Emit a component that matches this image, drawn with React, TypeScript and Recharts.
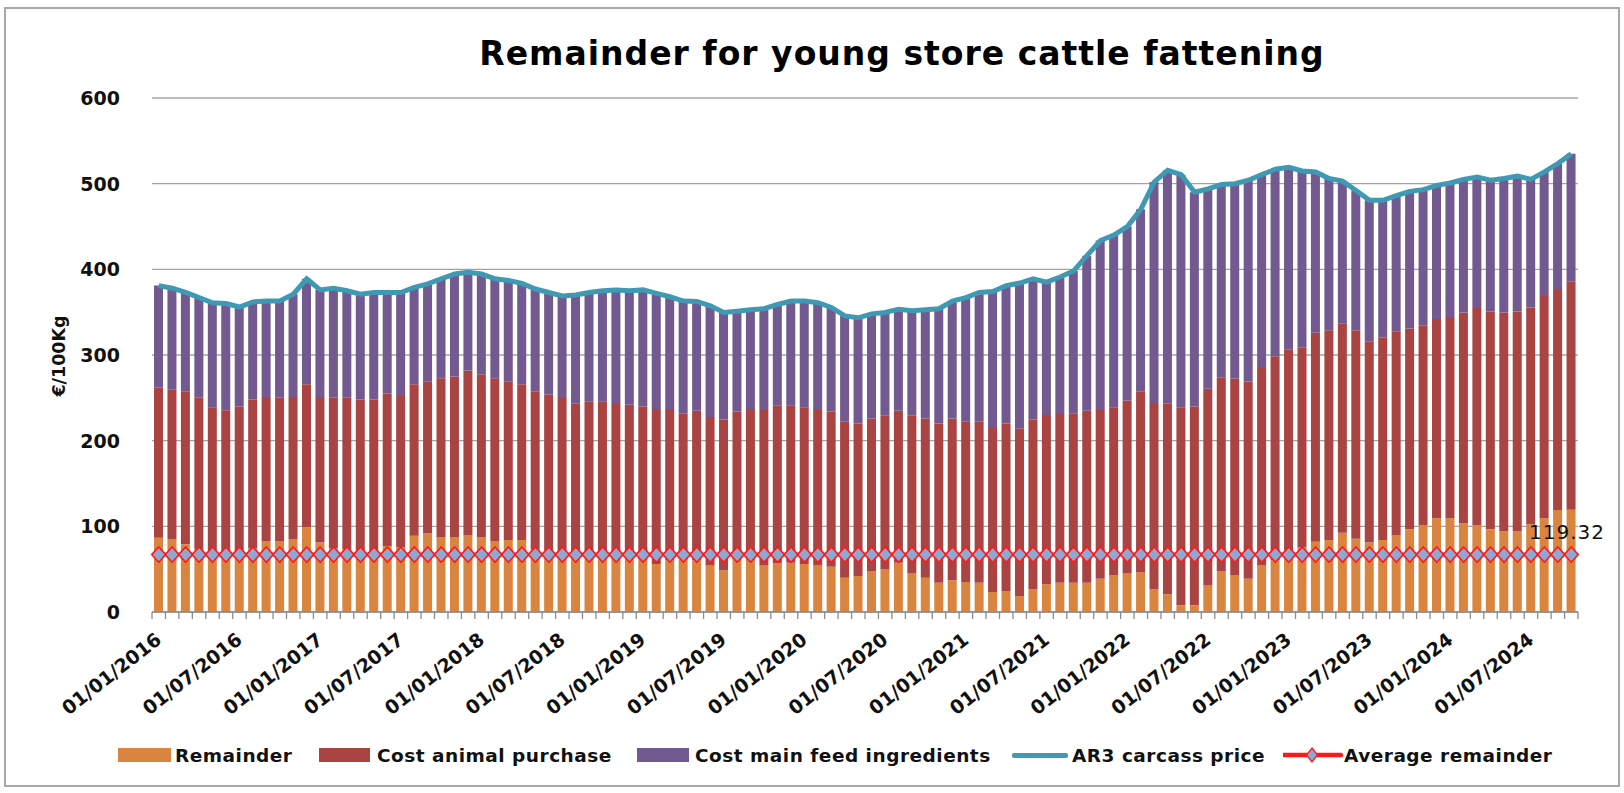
import React from "react";
import { ComposedChart, Bar, Line, XAxis, YAxis, CartesianGrid, LabelList } from "recharts";

// months from 01/01/2016, one bar per month
const START_YEAR = 2016;
const MONTH_COUNT = 106;
const months = Array.from({ length: MONTH_COUNT }, (_, i) => {
  const y = START_YEAR + Math.floor(i / 12);
  const m = (i % 12) + 1;
  return `01/${String(m).padStart(2, "0")}/${y}`;
});

const remainder = [
  86.7, 85, 79, 73, 72, 70, 71, 74, 83, 83,
  85, 99, 81, 74, 73, 72, 72, 77, 76, 89,
  92, 87, 87, 90, 87, 83, 84, 84, 73, 72,
  70, 68, 70, 69, 70, 66, 62, 56, 60, 62,
  60, 54.7, 48.8, 62, 61, 54.7, 56.6, 57.4, 56, 54.7,
  52.7, 40, 42, 48, 49.6, 57.4, 45, 40, 34, 37,
  35, 34, 23.4, 24.6, 18.8, 26.6, 32.4, 34, 34, 34,
  38.7, 43, 45, 46.5, 26.6, 20.7, 7.8, 7.8, 31, 48,
  43, 38.7, 54.7, 60, 72, 76, 82, 84, 92.6, 85.5,
  81, 84, 90, 96.5, 101.6, 109.4, 109.4, 103.5, 101.6, 96.5,
  94.5, 94.5, 102.3, 109.4, 119, 119.32,
];

const animalCost = [
  175, 175, 178, 177, 167, 165.5, 169, 174, 168, 167,
  166, 167, 170, 176, 177, 176, 176, 178, 176, 177,
  177.5, 186, 188, 192, 190, 190, 185.5, 182, 184, 182,
  181, 175, 176, 177, 174, 176, 178, 181, 177, 170,
  175, 173, 175.8, 172, 176, 182.3, 184.8, 184, 183, 182.3,
  181.3, 182, 178, 177.8, 179.4, 177.6, 184, 186, 186, 188.8,
  187, 188, 192.6, 195.4, 195.7, 198, 197.6, 197, 198, 201,
  198.3, 196, 202, 210.5, 217.4, 222.3, 231.2, 232.2, 229.5, 226,
  229.6, 230.3, 230.1, 238.4, 234.6, 233, 244, 245, 244.4, 243.5,
  234.6, 236, 237.7, 234.5, 232.4, 232.6, 235.1, 246.1, 253.4, 254.3,
  255.1, 256.3, 253.2, 259.6, 258, 266.7,
];

const feedCost = [
  119.3, 118, 116, 117, 122, 124.5, 116, 114, 112, 113,
  120, 123, 125, 128, 125, 123, 125, 118, 121, 113,
  113.5, 116, 119.5, 114.5, 117.5, 116, 117.5, 117.6, 120, 119,
  118, 127, 127, 129, 132, 133, 136, 135, 131, 131,
  127.5, 129.7, 125, 117, 115.7, 117, 117.6, 121.6, 124, 124,
  121.5, 123.7, 123.4, 122.2, 120.6, 118.5, 122.6, 126.7, 134, 137.2,
  145, 151, 158, 161, 169.5, 164.4, 155, 160, 166, 181,
  196.6, 201, 203, 213, 258, 272.6, 271.5, 250, 233.5, 225,
  227.4, 235, 225.7, 218.4, 212.4, 205.8, 187.7, 177, 166, 163,
  164.9, 160.5, 158.3, 160, 159, 156, 156.3, 155.4, 152.8, 153.2,
  156.4, 158.2, 149.5, 144.7, 146.4, 149,
];

const carcassPrice = [
  381, 378, 373, 367, 361, 360, 356, 362, 363, 363,
  371, 389, 376, 378, 375, 371, 373, 373, 373, 379,
  383, 389, 394.5, 396.5, 394.5, 389, 387, 383.6, 377, 373,
  369, 370, 373, 375, 376, 375, 376, 372, 368, 363,
  362.5, 357.4, 349.6, 351, 352.7, 354, 359, 363, 363, 361,
  355.5, 345.7, 343.4, 348, 349.6, 353.5, 351.6, 352.7, 354, 363,
  367, 373, 374, 381, 384, 389, 385, 391, 398, 416,
  433.6, 440, 450, 470, 502, 515.6, 510.5, 490, 494, 499,
  500, 504, 510.5, 516.8, 519, 514.8, 513.7, 506, 503, 492,
  480.5, 480.5, 486, 491, 493, 498, 500.8, 505, 507.8, 504,
  506, 509, 505, 513.7, 523.4, 535,
];

const AVERAGE_REMAINDER = 67;
const yTicks = [0, 100, 200, 300, 400, 500, 600];

const data = months.map((date, i) => ({
  date,
  remainder: remainder[i],
  animal: animalCost[i],
  feed: feedCost[i],
  price: carcassPrice[i],
  average: AVERAGE_REMAINDER,
}));

const W = 1624;
const H = 793;
const PLOT_LEFT = 152;
const PLOT_RIGHT = 1578;
const PLOT_BOTTOM = 612;
const BAND = (PLOT_RIGHT - PLOT_LEFT) / MONTH_COUNT;

const ORANGE = "#D9853F";
const RED = "#A94442";
const PURPLE = "#725A90";
const TEAL = "#3F99B3";
const AVG_RED = "#FF1A1A";
const AVG_FILL = "#8FA8D2";
const AXIS_GREY = "#8c8c8c";
const FONT = "'DejaVu Sans', sans-serif";

function MonthTick(props: any) {
  const { x, index, payload } = props;
  const left = x - BAND / 2;
  const ax = x + 4;
  const ay = PLOT_BOTTOM + 30;
  return (
    <g>
      <line x1={left} x2={left} y1={PLOT_BOTTOM} y2={PLOT_BOTTOM + 7} stroke={AXIS_GREY} strokeWidth={1.3} />
      {index === MONTH_COUNT - 1 && (
        <line x1={x + BAND / 2} x2={x + BAND / 2} y1={PLOT_BOTTOM} y2={PLOT_BOTTOM + 7} stroke={AXIS_GREY} strokeWidth={1.3} />
      )}
      {index % 6 === 0 && (
        <text
          x={ax}
          y={ay}
          transform={`rotate(-38 ${ax} ${ay})`}
          textAnchor="end"
          fontFamily={FONT}
          fontWeight="bold"
          fontSize={19}
          fill="#111"
        >
          {payload.value}
        </text>
      )}
    </g>
  );
}

function ValueTick(props: any) {
  const { y, payload } = props;
  return (
    <text x={PLOT_LEFT - 32} y={y} dy={7} textAnchor="end" fontFamily={FONT} fontWeight="bold" fontSize={19} fill="#111">
      {payload.value}
    </text>
  );
}

function Diamond(props: any) {
  const { cx, cy } = props;
  if (cx == null || cy == null) return null;
  return (
    <path
      d={`M${cx} ${cy - 7.6} L${cx + 7} ${cy} L${cx} ${cy + 7.6} L${cx - 7} ${cy} Z`}
      fill={AVG_FILL}
      stroke={AVG_RED}
      strokeWidth={1.6}
    />
  );
}

function LastRemainderLabel(props: any) {
  const { x, y, width, index, value } = props;
  const last = MONTH_COUNT - 1;
  if (index !== last && value !== remainder[last]) return null;
  return (
    <text x={x + width / 2 - 4} y={y + 29} textAnchor="middle" fontFamily={FONT} fontSize={20} letterSpacing={1} fill="#111">
      {Number(value).toFixed(2)}
    </text>
  );
}

const legendText: React.CSSProperties = {
  position: "absolute",
  top: 746,
  lineHeight: "20px",
  fontFamily: FONT,
  fontWeight: "bold",
  fontSize: 18.5,
  letterSpacing: 0.5,
  color: "#111",
  whiteSpace: "nowrap",
};

function Swatch({ left, width, color }: { left: number; width: number; color: string }) {
  return <div style={{ position: "absolute", left, top: 748, width, height: 14, background: color }} />;
}

export default function App() {
  return (
    <div style={{ position: "absolute", left: 0, top: 0, width: W, height: H, background: "#fff" }}>
      <ComposedChart
        width={W}
        height={H}
        data={data}
        margin={{ top: 98, right: W - PLOT_RIGHT, bottom: 81, left: PLOT_LEFT - 60 }}
      >
        <CartesianGrid horizontal vertical={false} stroke="#a3a3a3" strokeWidth={1.3} />
        <XAxis
          dataKey="date"
          interval={0}
          tick={(p: any) => <MonthTick {...p} />}
          tickLine={false}
          axisLine={{ stroke: AXIS_GREY, strokeWidth: 1.3 }}
          height={100}
        />
        <YAxis
          domain={[0, 600]}
          ticks={yTicks}
          interval={0}
          tick={(p: any) => <ValueTick {...p} />}
          axisLine={false}
          tickLine={false}
          width={60}
        />
        <Bar dataKey="remainder" name="Remainder" stackId="s" fill={ORANGE} barSize={9} isAnimationActive={false}>
          <LabelList dataKey="remainder" content={(p: any) => <LastRemainderLabel {...p} />} />
        </Bar>
        <Bar dataKey="animal" name="Cost animal purchase" stackId="s" fill={RED} barSize={9} isAnimationActive={false} />
        <Bar dataKey="feed" name="Cost main feed ingredients" stackId="s" fill={PURPLE} barSize={9} isAnimationActive={false} />
        <Line
          dataKey="price"
          name="AR3 carcass price"
          type="linear"
          stroke={TEAL}
          strokeWidth={5}
          dot={false}
          isAnimationActive={false}
        />
        <Line
          dataKey="average"
          name="Average remainder"
          type="linear"
          stroke={AVG_RED}
          strokeWidth={3.5}
          dot={(p: any) => <Diamond key={`d${p.index}`} {...p} />}
          isAnimationActive={false}
        />
      </ComposedChart>

      {/* title */}
      <div
        style={{
          position: "absolute",
          left: 902,
          top: 34,
          transform: "translateX(-50%)",
          fontFamily: FONT,
          fontWeight: "bold",
          fontSize: 33,
          letterSpacing: 1,
          lineHeight: "40px",
          whiteSpace: "nowrap",
          color: "#000",
        }}
      >
        Remainder for young store cattle fattening
      </div>

      {/* y axis title */}
      <div
        style={{
          position: "absolute",
          left: 59,
          top: 356,
          transform: "translate(-50%, -50%) rotate(-90deg)",
          fontFamily: FONT,
          fontWeight: "bold",
          fontSize: 17.5,
          whiteSpace: "nowrap",
          color: "#111",
        }}
      >
        €/100Kg
      </div>

      {/* legend */}
      <Swatch left={118} width={53} color={ORANGE} />
      <div style={{ ...legendText, left: 175 }}>Remainder</div>
      <Swatch left={319} width={51} color={RED} />
      <div style={{ ...legendText, left: 377 }}>Cost animal purchase</div>
      <Swatch left={637} width={52} color={PURPLE} />
      <div style={{ ...legendText, left: 695 }}>Cost main feed ingredients</div>
      <div style={{ position: "absolute", left: 1012, top: 753, width: 56, height: 5, borderRadius: 2, background: TEAL }} />
      <div style={{ ...legendText, left: 1072 }}>AR3 carcass price</div>
      <svg style={{ position: "absolute", left: 1283, top: 746 }} width={60} height={18}>
        <line x1={0} x2={58} y1={9} y2={9} stroke={AVG_RED} strokeWidth={4.5} strokeLinecap="round" />
        <path d="M29 2 L34.5 9 L29 16 L23.5 9 Z" fill={AVG_FILL} stroke={AVG_RED} strokeWidth={1.3} />
      </svg>
      <div style={{ ...legendText, left: 1344 }}>Average remainder</div>

      {/* frame */}
      <div
        style={{
          position: "absolute",
          left: 4,
          top: 7,
          width: 1612,
          height: 776,
          border: "2px solid #a8a8a8",
          pointerEvents: "none",
        }}
      />
    </div>
  );
}
